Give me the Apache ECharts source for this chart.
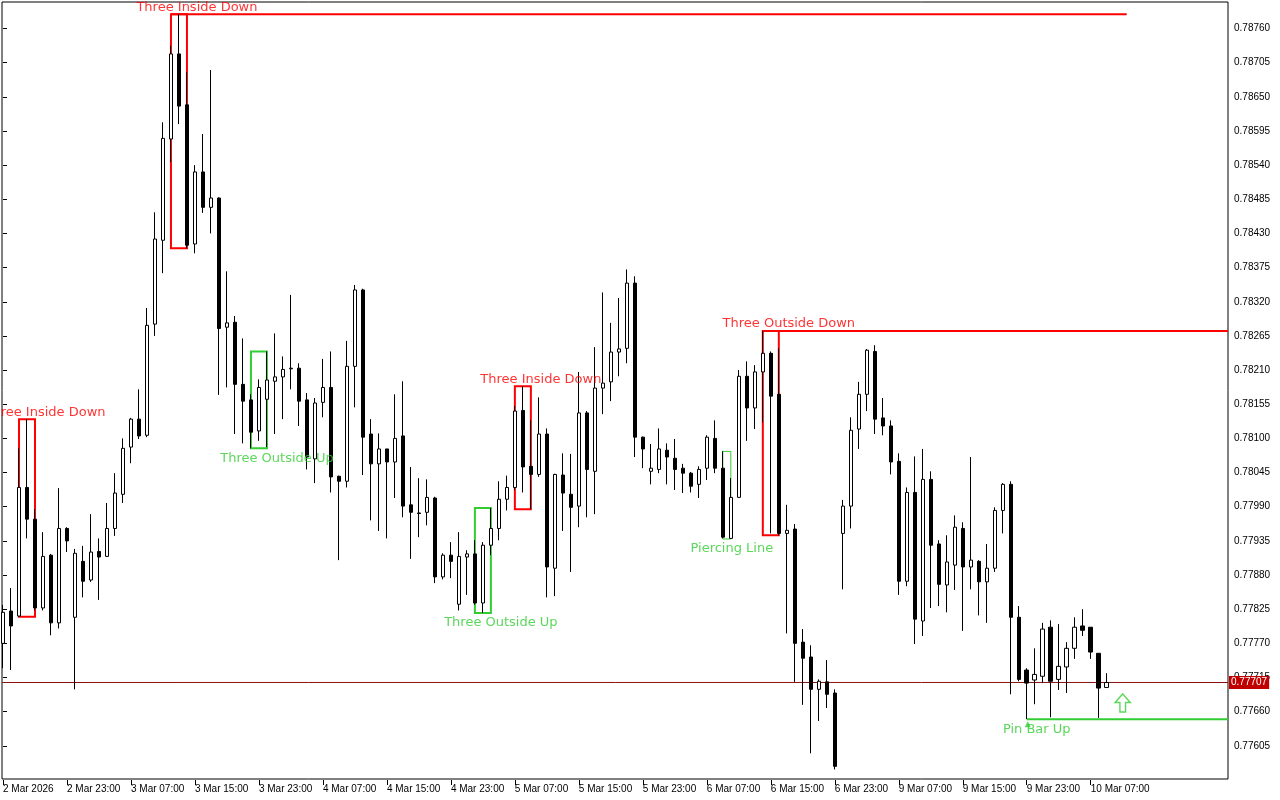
<!DOCTYPE html>
<html><head><meta charset="utf-8">
<script src="https://cdn.jsdelivr.net/npm/echarts@6/dist/echarts.min.js"></script>
<style>html,body{margin:0;padding:0;background:#fff}#c{width:1280px;height:800px}</style>
</head><body><div id="c"></div>
<script>
// ---- data ----
const tickLabels = ['2 Mar 2026','2 Mar 23:00','3 Mar 07:00','3 Mar 15:00','3 Mar 23:00','4 Mar 07:00','4 Mar 15:00','4 Mar 23:00','5 Mar 07:00','5 Mar 15:00','5 Mar 23:00','6 Mar 07:00','6 Mar 15:00','6 Mar 23:00','9 Mar 07:00','9 Mar 15:00','9 Mar 23:00','10 Mar 07:00'];
const opens = [0.77770,0.77822,0.77814,0.78021,0.77970,0.77827,0.77912,0.77803,0.77955,0.77812,
0.77902,0.77872,0.77918,0.77910,0.77955,0.78010,0.78086,0.78131,0.78105,0.78284,
0.78419,0.78582,0.78719,0.78637,0.78413,0.78529,0.78472,0.78487,0.78279,0.78287,
0.78187,0.78162,0.78112,0.78163,0.78192,0.78199,0.78212,0.78213,0.78162,0.78067,
0.78158,0.78182,0.78039,0.78031,0.78216,0.78339,0.78107,0.78059,0.78083,0.78062,
0.78104,0.77993,0.77980,0.77981,0.78004,0.77877,0.77912,0.77833,0.77909,0.77914,
0.77835,0.77928,0.77955,0.78002,0.78021,0.78145,0.78055,0.78042,0.78107,0.77891,
0.78041,0.78010,0.77991,0.78141,0.78047,0.78181,0.78191,0.78239,0.78245,0.78350,
0.78102,0.78047,0.78050,0.78081,0.78068,0.78052,0.78044,0.78026,0.78052,0.78100,
0.78052,0.77939,0.78005,0.78200,0.78149,0.78207,0.78237,0.78171,0.77947,0.77954,
0.77772,0.77748,0.77696,0.77708,0.77690,0.77947,0.77991,0.78115,0.78171,0.78240,
0.78133,0.78120,0.78063,0.77870,0.78013,0.77806,0.78034,0.77930,0.77864,0.77896,
0.77955,0.77893,0.77902,0.77869,0.77891,0.77984,0.78026,0.77812,0.77727,0.77711,
0.77717,0.77796,0.77712,0.77732,0.77762,0.77798,0.77796,0.77754,0.77699];
const closes = [0.77820,0.77798,0.78021,0.77970,0.77827,0.77910,0.77803,0.77955,0.77935,0.77915,
0.77870,0.77917,0.77909,0.77955,0.78012,0.78084,0.78131,0.78104,0.78282,0.78421,
0.78583,0.78719,0.78635,0.78411,0.78529,0.78472,0.78487,0.78277,0.78286,0.78187,
0.78160,0.78110,0.78182,0.78194,0.78199,0.78211,0.78213,0.78160,0.78070,0.78157,
0.78182,0.78038,0.78031,0.78216,0.78339,0.78102,0.78059,0.78083,0.78062,0.78100,
0.77991,0.77981,0.77979,0.78005,0.77877,0.77912,0.77902,0.77910,0.77914,0.77835,
0.77928,0.77955,0.78002,0.78021,0.78144,0.78054,0.78042,0.78107,0.77893,0.78042,
0.78012,0.77989,0.78141,0.78050,0.78181,0.78189,0.78239,0.78244,0.78350,0.78102,
0.78083,0.78052,0.78083,0.78070,0.78050,0.78044,0.78023,0.78050,0.78102,0.78052,
0.77941,0.78005,0.78200,0.78149,0.78207,0.78237,0.78168,0.77947,0.77952,0.77770,
0.77746,0.77696,0.77709,0.77688,0.77572,0.77991,0.78113,0.78171,0.78242,0.78131,
0.78120,0.78062,0.77870,0.78013,0.77809,0.78034,0.77928,0.77865,0.77901,0.77957,
0.77893,0.77904,0.77869,0.77891,0.77984,0.78026,0.77812,0.77712,0.77706,0.77720,
0.77793,0.77709,0.77733,0.77762,0.77796,0.77791,0.77756,0.77698,0.77707];
const lows = [0.77730,0.77727,0.77813,0.77939,0.77823,0.77823,0.77783,0.77794,0.77917,0.77696,
0.77844,0.77869,0.77840,0.77909,0.77943,0.77996,0.78060,0.78099,0.78102,0.78265,
0.78366,0.78545,0.78606,0.78406,0.78398,0.78463,0.78430,0.78170,0.78182,0.78107,
0.78092,0.78084,0.78096,0.78086,0.78107,0.78131,0.78179,0.78120,0.78050,0.78028,
0.78134,0.78013,0.77904,0.78021,0.78150,0.78041,0.77968,0.77951,0.77939,0.78004,
0.77973,0.77906,0.77941,0.77960,0.77867,0.77873,0.77875,0.77823,0.77848,0.77832,
0.77819,0.77912,0.77936,0.77984,0.78017,0.78013,0.77986,0.78038,0.77844,0.77846,
0.77951,0.77885,0.77957,0.77973,0.77978,0.78139,0.78160,0.78200,0.78221,0.78070,
0.78052,0.78026,0.78044,0.78026,0.78017,0.78012,0.78013,0.78004,0.78033,0.78044,
0.77939,0.77938,0.78004,0.78096,0.78115,0.78126,0.77947,0.77944,0.77786,0.77708,
0.77671,0.77593,0.77645,0.77666,0.77567,0.77857,0.77955,0.78083,0.78144,0.78107,
0.78105,0.78042,0.77848,0.77862,0.77769,0.77782,0.77827,0.77830,0.77820,0.77856,
0.77790,0.77857,0.77815,0.77803,0.77885,0.77947,0.77688,0.77709,0.77648,0.77672,
0.77706,0.77651,0.77695,0.77690,0.77745,0.77782,0.77745,0.77650,0.77699];
const highs = [0.77832,0.77859,0.78084,0.78131,0.77986,0.77949,0.77914,0.78020,0.77957,0.77922,
0.77927,0.77978,0.77939,0.77996,0.78044,0.78100,0.78133,0.78179,0.78310,0.78464,
0.78609,0.78732,0.78783,0.78690,0.78540,0.78590,0.78693,0.78488,0.78369,0.78297,
0.78261,0.78171,0.78195,0.78240,0.78269,0.78232,0.78331,0.78221,0.78173,0.78165,
0.78228,0.78240,0.78040,0.78257,0.78347,0.78341,0.78131,0.78108,0.78083,0.78171,
0.78192,0.78054,0.78036,0.78034,0.78006,0.77915,0.77933,0.77949,0.77920,0.77936,
0.77933,0.77988,0.78031,0.78040,0.78152,0.78184,0.78129,0.78166,0.78116,0.78043,
0.78076,0.78075,0.78207,0.78144,0.78247,0.78335,0.78286,0.78326,0.78372,0.78361,
0.78103,0.78091,0.78116,0.78092,0.78099,0.78059,0.78046,0.78055,0.78105,0.78129,
0.78079,0.78036,0.78210,0.78224,0.78218,0.78273,0.78240,0.78245,0.77993,0.77962,
0.77793,0.77767,0.77712,0.77743,0.77696,0.78001,0.78134,0.78191,0.78244,0.78250,
0.78165,0.78129,0.78076,0.78021,0.78071,0.78083,0.78047,0.77936,0.77944,0.77976,
0.77965,0.78070,0.77904,0.77930,0.77989,0.78028,0.78031,0.77830,0.77730,0.77762,
0.77803,0.77807,0.77801,0.77772,0.77812,0.77825,0.77796,0.77754,0.77722];
const patterns = [
  {name:'Three Inside Down', start:2, end:4, dir:'down'},
  {name:'Three Inside Down', start:21, end:23, dir:'down', levelTo:140.5},
  {name:'Three Outside Up', start:31, end:33, dir:'up'},
  {name:'Three Outside Up', start:59, end:61, dir:'up'},
  {name:'Three Inside Down', start:64, end:66, dir:'down'},
  {name:'Piercing Line', start:90, end:91, dir:'up'},
  {name:'Three Outside Down', start:95, end:97, dir:'down', levelTo:153.2},
  {name:'Pin Bar Up', start:128, end:128, dir:'up', levelTo:153.2}
];
const signalArrows = [[140, 0.77674]];
const currentPrice = 0.77707;

// ---- layout / style ----
const slots = 154;
const yMin = 0.7755, yMax = 0.78801, yStep = 0.00055;
const rectWidths = [2,2,2,2,2,1,2,2];
const labelDx = [10,10,10,10,10,1,10,10];
const RED = '#ff0000', GREEN = '#32cd32';
const AXFONT = 'Liberation Sans';

const chart = echarts.init(document.getElementById('c'));
const categories = Array.from({length: slots}, (_, i) => String(i));
const candleData = opens.map((o, i) => [o, closes[i], lows[i], highs[i]]);
const tickFn = (i) => i % 8 === 0 && i / 8 < tickLabels.length;

const series = [];
series.push({
  type:'line', xAxisIndex:0, yAxisIndex:1, data:[[-0.0006,currentPrice],[1.0011,currentPrice]],
  symbol:'none', z:1, silent:true, clip:false, lineStyle:{color:'#8a1010', width:1},
  endLabel:{show:true, formatter:() => currentPrice.toFixed(5), backgroundColor:'#c00000',
    color:'#fff', fontFamily:AXFONT, fontSize:10, padding:[2,2,1,2], distance:1}
});
patterns.forEach((p, j) => {
  const col = p.dir === 'down' ? RED : GREEN;
  let top = -Infinity, bot = Infinity;
  for (let i = p.start; i <= p.end; i++) { top = Math.max(top, highs[i]); bot = Math.min(bot, lows[i]); }
  const level = p.dir === 'down' ? top : bot;
  if (p.end > p.start) {
    series.push({type:'line', xAxisIndex:2, yAxisIndex:1, symbol:'none', z:1, silent:true,
      data:[[p.start,top],[p.end,top],[p.end,bot],[p.start,bot],[p.start,top]],
      lineStyle:{color:col, width:rectWidths[j], join:'miter', cap:'square'}});
  }
  if (p.levelTo != null) {
    series.push({type:'line', xAxisIndex:2, yAxisIndex:1, symbol:'none', z:1, silent:true, clip:false,
      data:[[p.start,level],[p.levelTo,level]], lineStyle:{color:col, width:2}});
  }
  if (p.start === p.end) {
    series.push({type:'scatter', xAxisIndex:2, yAxisIndex:1, silent:true, z:4,
      data:[[p.start, level]], symbol:'triangle', symbolSize:6, symbolOffset:[1,5], itemStyle:{color:col}});
  }
  series.push({type:'scatter', xAxisIndex:2, yAxisIndex:1, symbolSize:0, silent:true, z:5,
    data:[{value:[p.end, level], label:{offset:[labelDx[j], p.dir === 'down' ? -7 : 10]}}],
    label:{show:true, position:'inside', formatter:p.name, color:col, fontFamily:'DejaVu Sans', fontSize:13}});
});
series.push({type:'scatter', xAxisIndex:2, yAxisIndex:1, silent:true, z:5, data:signalArrows,
  symbol:'path://M8,0 L16,9 L11,9 L11,19 L5,19 L5,9 L0,9 Z', symbolSize:[15,18],
  itemStyle:{color:'#ffffff', borderColor:GREEN, borderWidth:1.5}});
series.push({type:'candlestick', xAxisIndex:1, yAxisIndex:1, data:candleData, barWidth:4, z:3, silent:true,
  itemStyle:{color:'#ffffff', color0:'#000000', borderColor:'#000000', borderColor0:'#000000', borderWidth:1}});

chart.setOption({
  animation:false,
  backgroundColor:'#ffffff',
  grid:[
    {left:2, right:52, top:2, bottom:21, show:true, borderColor:'#000', borderWidth:1},
    {left:2.7, width:1224, top:3, bottom:20}
  ],
  xAxis:[
    {gridIndex:1, type:'value', min:0, max:1, show:false},
    {gridIndex:1, type:'category', data:categories, boundaryGap:false, position:'bottom',
      axisLine:{show:false}, splitLine:{show:false},
      axisTick:{show:true, interval:tickFn, length:5, lineStyle:{color:'#000'}},
      axisLabel:{interval:tickFn, formatter:(v, i) => tickLabels[i / 8] || '', align:'left', margin:4,
        color:'#000', fontFamily:AXFONT, fontSize:10}},
    {gridIndex:1, type:'value', min:0, max:slots - 1, show:false},
    {gridIndex:0, type:'value', min:0, max:1, show:false}
  ],
  yAxis:[
    {gridIndex:0, type:'value', min:0, max:1, show:false},
    {gridIndex:1, type:'value', position:'right', offset:1.3, min:yMin, max:yMax, interval:yStep,
      axisLine:{show:false}, splitLine:{show:false},
      axisTick:{show:true, length:4, lineStyle:{color:'#000'}},
      axisLabel:{showMinLabel:false, showMaxLabel:false, formatter:v => v.toFixed(5), color:'#000',
        fontFamily:AXFONT, fontSize:10, margin:6}}
  ],
  series
});
</script></body></html>
